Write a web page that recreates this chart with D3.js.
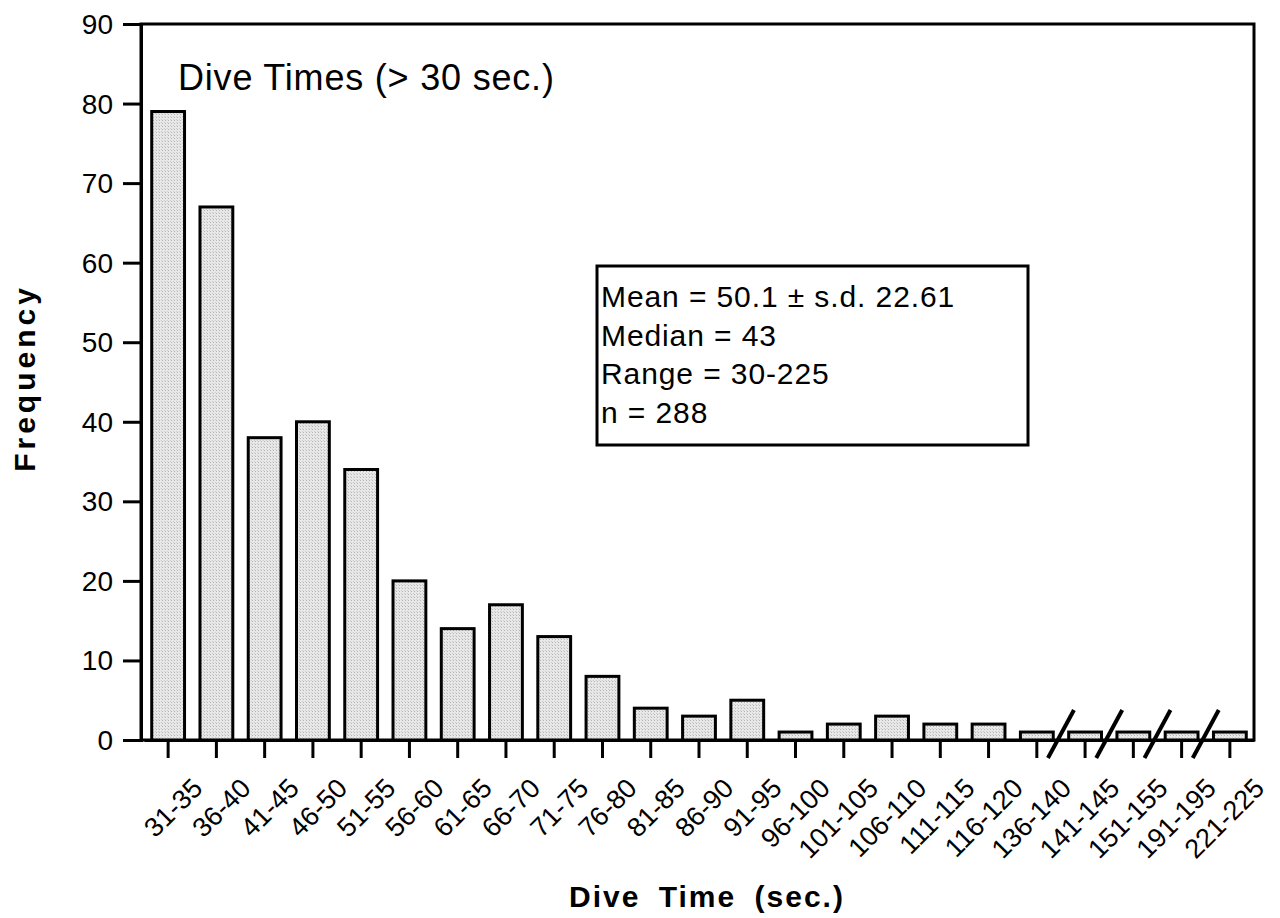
<!DOCTYPE html>
<html>
<head>
<meta charset="utf-8">
<script src="https://cdn.jsdelivr.net/npm/d3@7"></script>
<style>
body{margin:0;background:#fff;}
text{font-family:"Liberation Sans",Arial,Helvetica,sans-serif;fill:#000;}
</style>
</head>
<body>
<svg id="chart" width="1280" height="918"></svg>
<script>
'use strict';

var categories=['31-35','36-40','41-45','46-50','51-55','56-60','61-65','66-70','71-75','76-80',
    '81-85','86-90','91-95','96-100','101-105','106-110','111-115','116-120','136-140','141-145',
    '151-155','191-195','221-225'];
var counts=[79,67,38,40,34,20,14,17,13,8,4,3,5,1,2,3,2,2,1,1,1,1,1];
var yTicks=[0,10,20,30,40,50,60,70,80,90];
var breaks=['136-140','141-145','151-155','191-195'];   // slash drawn after these
var statLines=['Mean = 50.1 \u00b1 s.d. 22.61','Median = 43','Range = 30-225','n = 288'];
var title='Dive Times (> 30 sec.)';

var svg=d3.select('#chart')
  , L=141, R=1254, T=24, B=740

var x=d3.scaleBand().domain(categories).range([L+3,R]).paddingInner(0.32).paddingOuter(0.16);
var y=d3.scaleLinear().domain([0,90]).range([B,T]);

var defs=svg.append('defs');
var pat=defs.append('pattern')
    .attr('id','stip')
    .attr('width',3)
    .attr('height',3)
    .attr('patternUnits','userSpaceOnUse');
pat.append('rect').attr('width',3).attr('height',3).attr('fill','#e8e8e8');
pat.append('rect').attr('width',1).attr('height',1).attr('fill','#b4b4b4');
pat.append('rect').attr('x',2).attr('y',2).attr('width',1).attr('height',1).attr('fill','#cccccc');

// frame
svg.append('rect')
    .attr('x',L)
    .attr('y',T)
    .attr('width',R-L)
    .attr('height',B-T)
    .attr('fill','none')
    .attr('stroke','#000')
    .attr('stroke-width',3);

// bars
svg.append('g').selectAll('rect')
    .data(counts)
    .enter().append('rect')
    .attr('x',function(d,i){return x(categories[i]);})
    .attr('y',function(d){return y(d);})
    .attr('width',x.bandwidth())
    .attr('height',function(d){return B-y(d);})
    .attr('fill','url(#stip)')
    .attr('stroke','#000')
    .attr('stroke-width',3);

// y axis
var ya=svg.append('g')
    .attr('transform','translate('+L+',0)')
    .call(d3.axisLeft(y).tickValues(yTicks).tickSize(18).tickPadding(10));
ya.select('.domain').attr('stroke-width',3);
ya.selectAll('.tick line').attr('stroke-width',3);
ya.selectAll('.tick text')
    .attr('font-size',null)
    .style('font-size','28px')
    .attr('dy','0.34em');

// x axis
var xa=svg.append('g')
    .attr('transform','translate(0,'+B+')')
    .call(d3.axisBottom(x).tickSize(18).tickSizeOuter(0));
xa.select('.domain').attr('stroke-width',3);
xa.selectAll('.tick line').attr('stroke-width',3);
xa.selectAll('.tick text')
    .style('font-size','27px')
    .attr('text-anchor','end')
    .attr('x',0)
    .attr('y',0)
    .attr('dy',0)
    .attr('transform','translate(36,50) rotate(-45)');

// axis breaks
svg.append('g').selectAll('line')
    .data(breaks)
    .enter().append('line')
    .attr('x1',function(d){return x(d)+x.bandwidth()/2+x.step()/2-13;})
    .attr('x2',function(d){return x(d)+x.bandwidth()/2+x.step()/2+13;})
    .attr('y1',B+18)
    .attr('y2',B-30)
    .attr('stroke','#000')
    .attr('stroke-width',4);

// title
svg.append('text')
    .attr('x',178)
    .attr('y',90)
    .style('font-size','36px')
    .style('letter-spacing','0.8px')
    .text(title);

// stats box
svg.append('rect')
    .attr('x',597)
    .attr('y',266)
    .attr('width',431)
    .attr('height',179)
    .attr('fill','#fff')
    .attr('stroke','#000')
    .attr('stroke-width',3);
svg.append('g').selectAll('text')
    .data(statLines)
    .enter().append('text')
    .attr('x',601)
    .attr('y',function(d,i){return 307+i*38.7;})
    .style('font-size','30px')
    .style('letter-spacing','0.9px')
    .text(function(d){return d;});

// axis titles
svg.append('text')
    .attr('transform','translate(35,378) rotate(-90)')
    .attr('text-anchor','middle')
    .style('font-size','30px')
    .style('font-weight','bold')
    .style('letter-spacing','4px')
    .text('Frequency');
svg.append('text')
    .attr('x',707)
    .attr('y',907)
    .attr('text-anchor','middle')
    .style('font-size','30px')
    .style('font-weight','bold')
    .style('letter-spacing','2px')
    .style('word-spacing','8px')
    .text('Dive Time (sec.)');
</script>
</body>
</html>
